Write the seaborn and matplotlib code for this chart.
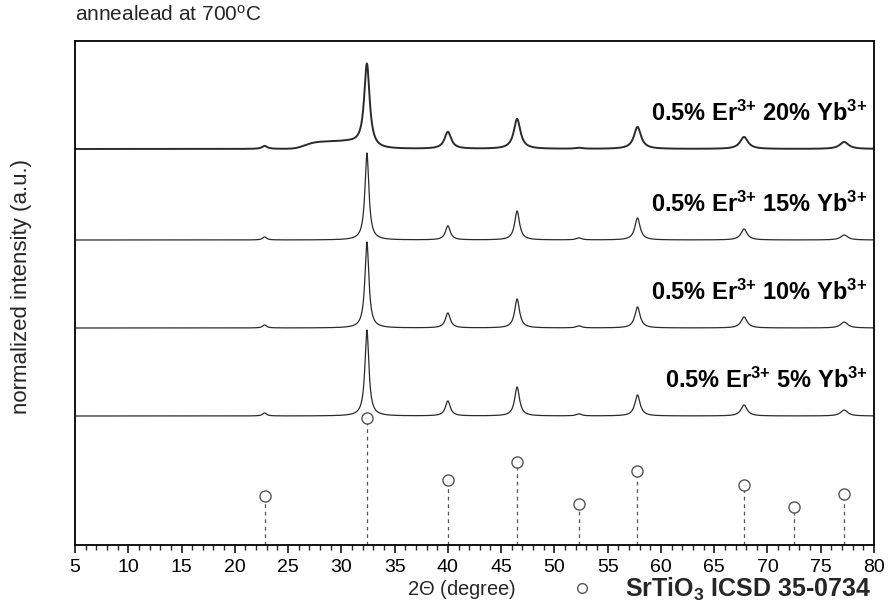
import numpy as np
import pandas as pd
import matplotlib
matplotlib.use("Agg")
import matplotlib.pyplot as plt
from matplotlib.lines import Line2D
from matplotlib import font_manager
import seaborn as sns

# ---------------- data ----------------
series_labels = [r"0.5% Er$^{3{+}}$ 5% Yb$^{3{+}}$",
                 r"0.5% Er$^{3{+}}$ 10% Yb$^{3{+}}$",
                 r"0.5% Er$^{3{+}}$ 15% Yb$^{3{+}}$",
                 r"0.5% Er$^{3{+}}$ 20% Yb$^{3{+}}$"]
# vertical offset of each pattern (normalized, stacked)
offsets = [129, 217, 305, 396]

peak_pos = [22.8, 32.4, 40.0, 46.5, 52.3, 57.8, 67.8, 77.2]
heights_5 = [3, 86, 15, 29, 2, 21, 11, 6]
heights_10 = [3, 86, 15, 29, 2, 21, 11, 6]
heights_15 = [3, 87, 14, 29, 2, 22, 11, 5]
heights_20 = [3, 84, 17, 30, 1, 22, 12, 7]
widths_narrow = [0.45, 0.45, 0.55, 0.55, 0.6, 0.6, 0.7, 0.8]
widths_broad = [0.6, 0.62, 0.75, 0.75, 0.8, 0.8, 0.9, 1.0]
# amorphous hump of the 20 % sample
hump_20 = dict(center=29.2, height=7, width=2.4)

# SrTiO3 ICSD 35-0734 reference pattern
ref_pos = [22.8, 32.4, 40.0, 46.5, 52.3, 57.8, 67.8, 72.5, 77.2]
ref_int = [49, 127, 65, 83, 41, 74, 60, 38, 51]

xticks = list(range(5, 81, 5))

# ---------------- build profiles ----------------
two_theta = np.arange(5.0, 80.0001, 0.02)

def profile(pos, hts, wds):
    y = np.zeros_like(two_theta)
    for p, h, w in zip(pos, hts, wds):
        g = (w / 2) ** 2
        y += h * g / ((two_theta - p) ** 2 + g)
    return y

all_heights = [heights_5, heights_10, heights_15, heights_20]
all_widths = [widths_narrow, widths_narrow, widths_narrow, widths_broad]
frames = []
for lab, off, hts, wds in zip(series_labels, offsets, all_heights, all_widths):
    y = profile(peak_pos, hts, wds) + off
    if off == offsets[-1]:
        y += hump_20["height"] * np.exp(-0.5 * ((two_theta - hump_20["center"]) / hump_20["width"]) ** 4)
    frames.append(pd.DataFrame({"two_theta": two_theta, "intensity": y, "sample": lab}))
df = pd.concat(frames, ignore_index=True)

# ---------------- styling ----------------
sns.set_theme(style="ticks")
plt.rcParams["font.family"] = ["Liberation Sans", "DejaVu Sans"]
plt.rcParams["mathtext.default"] = "regular"
plt.rcParams["axes.linewidth"] = 1.2

available = {f.name for f in font_manager.fontManager.ttflist}
narrow = "Liberation Sans Narrow" if "Liberation Sans Narrow" in available else "Liberation Sans"

W, H = 889, 608
fig = plt.figure(figsize=(W / 100, H / 100), dpi=100)
L, R, T, B = 75, 874, 41, 545
ax = fig.add_axes([L / W, 1 - B / H, (R - L) / W, (B - T) / H])

line_color = "#2b2b2b"
for lab in series_labels:
    sub = df[df["sample"] == lab]
    sns.lineplot(data=sub, x="two_theta", y="intensity", ax=ax, color=line_color,
                 lw=1.4 if lab == series_labels[-1] else 0.9,
                 estimator=None, sort=False, legend=False)

# reference sticks
ax.vlines(ref_pos, 0, ref_int, colors="#555555", linestyles=(0, (3, 3)), lw=0.9)
ax.plot(ref_pos, ref_int, ls="none", marker="o", ms=8, mfc="white", mec="#555555", mew=1.0)

# series labels
for lab, off in zip(series_labels, offsets):
    ax.text(0.992, off + 36, lab, transform=ax.get_yaxis_transform(), ha="right", va="center",
            fontsize=17, fontweight="bold", color="black")

ax.set_xlim(5, 80)
ax.set_ylim(0, B - T)
ax.set_xticks(xticks)
ax.set_xticks(np.arange(5, 81, 1), minor=True)
ax.set_yticks([])
ax.tick_params(axis="x", which="major", direction="out", length=6, width=1.1, pad=4,
               labelsize=14, colors="black")
ax.tick_params(axis="x", which="minor", direction="out", length=3.5, width=1.0)
for lbl in ax.get_xticklabels():
    lbl.set_family([narrow, "DejaVu Sans"])
for s in ax.spines.values():
    s.set_visible(True)
    s.set_color("black")
    s.set_linewidth(1.3)

ax.set_ylabel("")
ax.set_xlabel(r"2$\Theta$ (degree)", fontsize=14.5, family=[narrow, "DejaVu Sans"])
ax.xaxis.set_label_coords((462 - L) / (R - L), -(578 - B) / (B - T))

fig.text(22 / W, 1 - 287 / H, "normalized intensity (a.u.)", rotation=90,
         ha="center", va="center", fontsize=16)
fig.text(L / W, 1 - 15 / H, r"annealead at 700$^{o}$C", ha="left", va="center", fontsize=15)

handle = Line2D([], [], ls="none", marker="o", ms=7, mfc="white", mec="#555555", mew=1.0)
leg = ax.legend([handle], [r"SrTiO$_3$ ICSD 35-0734"], loc="center right",
                bbox_to_anchor=(0.996, -(589 - B) / (B - T)), frameon=False,
                borderaxespad=0, borderpad=0, handletextpad=1.1, handlelength=1.2,
                prop={"weight": "bold", "size": 18, "family": [narrow, "DejaVu Sans"]})

fig.savefig("out.png", dpi=100, facecolor="white")
